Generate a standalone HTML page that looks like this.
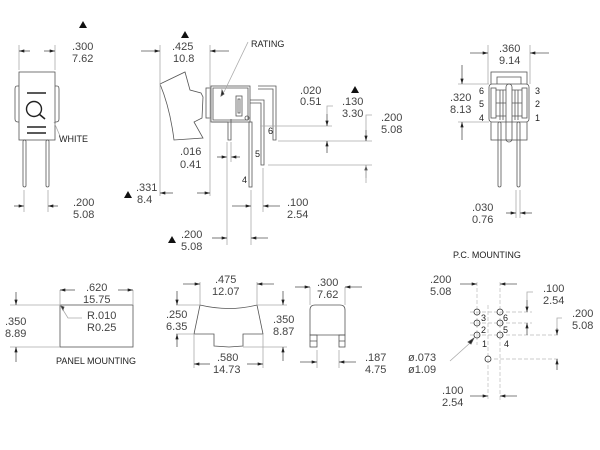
<!DOCTYPE html>
<html><head><meta charset="utf-8"><style>
body{margin:0;background:#fff}
svg{display:block}
text{font-family:"Liberation Sans",sans-serif;fill:#444;font-size:11px}
.s{font-size:9px;fill:#222}
</style></head><body>
<svg width="600" height="450" viewBox="0 0 600 450" xmlns="http://www.w3.org/2000/svg">
<defs>
<marker id="a" viewBox="0 0 10 6" refX="10" refY="3" markerWidth="8" markerHeight="4" orient="auto-start-reverse"><path d="M0,0L10,3L0,6z" fill="#222"/></marker>
</defs>
<g stroke="#555" stroke-width="0.8" fill="none">
<rect x="19" y="72" width="36" height="68" fill="#fff"/>
<path d="M19,86h-2q-2,0-2,3v30q0,3,3,3h1 M55,86h2q2,0,2,3v30q0,3-3,3h-1"/>
<line x1="27" y1="93" x2="46" y2="93" stroke-width="1.4" stroke="#222"/>
<circle cx="34" cy="109" r="7.5" stroke-width="1.4" stroke="#222"/>
<line x1="39" y1="114" x2="45" y2="119" stroke-width="1.6" stroke="#222"/>
<line x1="27" y1="127" x2="46" y2="127" stroke-width="1.4" stroke="#222"/>
<line x1="27" y1="133" x2="46" y2="133" stroke-width="1.4" stroke="#222"/>
<line x1="54" y1="122" x2="60" y2="136" stroke="#aaa"/>
<rect x="23" y="140" width="3" height="47" rx="1.5"/>
<rect x="46" y="140" width="3" height="47" rx="1.5"/>
<line x1="19" y1="45" x2="19" y2="70" stroke="#aaa"/><line x1="55" y1="45" x2="55" y2="70" stroke="#aaa"/>
<line x1="19" y1="51" x2="30" y2="51" marker-start="url(#a)"/><line x1="44" y1="51" x2="55" y2="51" marker-end="url(#a)"/>
<line x1="24" y1="190" x2="24" y2="212" stroke="#aaa"/><line x1="48" y1="190" x2="48" y2="212" stroke="#aaa"/>
<line x1="14" y1="206" x2="24" y2="206" marker-end="url(#a)"/><line x1="58" y1="206" x2="48" y2="206" marker-end="url(#a)"/>
<path d="M160,84L185,72L190,90L201,93L203,97L202,118L194,122L203,138L174,140Q170,108 160,84Z" fill="#fff"/>
<rect x="206" y="88" width="5" height="30"/>
<rect x="211" y="86" width="39" height="36" fill="#fff"/>
<path d="M213,88h35v32h-35z"/>
<rect x="236" y="96" width="6" height="20"/><rect x="238" y="99" width="2" height="14"/>
<path d="M258,86h18v54h-3v-51h-15"/>
<path d="M250,100h14v65h-3v-62h-11"/>
<rect x="249" y="122" width="3" height="65"/>
<path d="M212,122h16v18h3v-21"/>
<circle cx="247" cy="118" r="2"/>
<line x1="248" y1="42" x2="224" y2="92" stroke="#aaa"/>
<path d="M224,94l-3,2l1,-6z" fill="#222"/>
<line x1="160" y1="45" x2="160" y2="196" stroke="#aaa"/><line x1="210" y1="45" x2="210" y2="196" stroke="#aaa"/>
<line x1="141" y1="51" x2="160" y2="51" marker-end="url(#a)"/><line x1="229" y1="51" x2="210" y2="51" marker-end="url(#a)"/>
<line x1="173" y1="193" x2="160" y2="193" marker-end="url(#a)"/><line x1="197" y1="193" x2="210" y2="193" marker-end="url(#a)"/>
<line x1="217" y1="157" x2="227" y2="157" marker-end="url(#a)"/><line x1="240" y1="157" x2="231" y2="157" marker-end="url(#a)"/>
<line x1="227" y1="142" x2="227" y2="245" stroke="#aaa"/><line x1="231" y1="142" x2="231" y2="162" stroke="#aaa"/>
<line x1="251" y1="190" x2="251" y2="245" stroke="#aaa"/><line x1="263" y1="168" x2="263" y2="212" stroke="#aaa"/>
<line x1="232" y1="206" x2="251" y2="206" marker-end="url(#a)"/><line x1="280" y1="206" x2="263" y2="206" marker-end="url(#a)"/>
<line x1="212" y1="238" x2="227" y2="238" marker-end="url(#a)"/><line x1="268" y1="238" x2="251" y2="238" marker-end="url(#a)"/>
<line x1="260" y1="126" x2="332" y2="126" stroke="#aaa"/><line x1="278" y1="141" x2="372" y2="141" stroke="#aaa"/><line x1="268" y1="165" x2="372" y2="165" stroke="#aaa"/>
<path d="M327,114v-8h6" stroke="#aaa"/><path d="M366,130v-15h6" stroke="#aaa"/>
<line x1="327" y1="114" x2="327" y2="126" marker-end="url(#a)"/><line x1="327" y1="153" x2="327" y2="141" marker-end="url(#a)"/>
<line x1="366" y1="130" x2="366" y2="141" marker-end="url(#a)"/><line x1="366" y1="178" x2="366" y2="165" marker-end="url(#a)"/>
<line x1="366" y1="165" x2="366" y2="183" stroke="#aaa"/>
<rect x="491" y="72" width="36" height="68" fill="#fff"/>
<path d="M497,84v-7h24v7"/>
<rect x="489" y="84" width="40" height="38" rx="3" fill="#fff"/>
<rect x="491" y="88" width="5" height="30"/><rect x="522" y="88" width="5" height="30"/>
<rect x="506" y="84" width="6" height="58" rx="3"/>
<path d="M496,90h10M512,90h10M496,103h10M512,103h10M496,116h10M512,116h10"/>
<path d="M500,90v30M503,90v30M515,90v30M518,90v30"/>
<rect x="498" y="122" width="3" height="65" rx="1.5"/><rect x="517" y="122" width="3" height="65" rx="1.5"/>
<line x1="488" y1="45" x2="488" y2="84" stroke="#aaa"/><line x1="530" y1="45" x2="530" y2="84" stroke="#aaa"/>
<line x1="470" y1="53" x2="488" y2="53" marker-end="url(#a)"/><line x1="549" y1="53" x2="530" y2="53" marker-end="url(#a)"/>
<line x1="458" y1="84" x2="489" y2="84" stroke="#aaa"/><line x1="458" y1="122" x2="489" y2="122" stroke="#aaa"/>
<line x1="462" y1="65" x2="462" y2="84" marker-end="url(#a)"/><line x1="462" y1="140" x2="462" y2="122" marker-end="url(#a)"/>
<line x1="516" y1="190" x2="516" y2="218" stroke="#aaa"/><line x1="520" y1="190" x2="520" y2="218" stroke="#aaa"/>
<line x1="506" y1="213" x2="516" y2="213" marker-end="url(#a)"/><line x1="532" y1="213" x2="520" y2="213" marker-end="url(#a)"/>
<rect x="60" y="305" width="73" height="42"/>
<path d="M60,305l8,13h14" stroke="#aaa"/><path d="M61,306l3,1l-1,3z" fill="#222"/>
<line x1="60" y1="290" x2="60" y2="305" stroke="#aaa"/><line x1="133" y1="290" x2="133" y2="305" stroke="#aaa"/>
<line x1="75" y1="290" x2="60" y2="290" marker-end="url(#a)"/><line x1="118" y1="290" x2="133" y2="290" marker-end="url(#a)"/>
<line x1="10" y1="305" x2="60" y2="305" stroke="#aaa"/><line x1="10" y1="347" x2="60" y2="347" stroke="#aaa"/>
<line x1="16" y1="292" x2="16" y2="305" marker-end="url(#a)"/><line x1="16" y1="362" x2="16" y2="347" marker-end="url(#a)"/>
<path d="M200,305Q229,312 257,305L263,334H243V346L229,347L214,346V334H194Z" fill="#fff"/>
<line x1="200" y1="282" x2="200" y2="305" stroke="#aaa"/><line x1="257" y1="282" x2="257" y2="305" stroke="#aaa"/>
<line x1="183" y1="284" x2="200" y2="284" marker-end="url(#a)"/><line x1="274" y1="284" x2="257" y2="284" marker-end="url(#a)"/>
<line x1="176" y1="305" x2="200" y2="305" stroke="#aaa"/><line x1="176" y1="334" x2="194" y2="334" stroke="#aaa"/>
<line x1="177" y1="291" x2="177" y2="305" marker-end="url(#a)"/><line x1="177" y1="347" x2="177" y2="334" marker-end="url(#a)"/>
<line x1="257" y1="305" x2="287" y2="305" stroke="#aaa"/><line x1="243" y1="347" x2="287" y2="347" stroke="#aaa"/>
<line x1="283" y1="291" x2="283" y2="305" marker-end="url(#a)"/><line x1="283" y1="361" x2="283" y2="347" marker-end="url(#a)"/>
<line x1="194" y1="334" x2="194" y2="368" stroke="#aaa"/><line x1="263" y1="334" x2="263" y2="368" stroke="#aaa"/>
<line x1="210" y1="364" x2="194" y2="364" marker-end="url(#a)"/><line x1="247" y1="364" x2="263" y2="364" marker-end="url(#a)"/>
<path d="M310,335V310q0-5,5-5h25q5,0,5,5v25z" fill="#fff"/>
<rect x="310" y="335" width="7" height="12"/><rect x="339" y="335" width="6" height="12"/>
<path d="M310,341h7M339,341h6"/>
<line x1="310" y1="287" x2="310" y2="305" stroke="#aaa"/><line x1="345" y1="287" x2="345" y2="305" stroke="#aaa"/>
<line x1="295" y1="287" x2="310" y2="287" marker-end="url(#a)"/><line x1="362" y1="287" x2="345" y2="287" marker-end="url(#a)"/>
<line x1="317" y1="350" x2="317" y2="368" stroke="#aaa"/><line x1="339" y1="350" x2="339" y2="368" stroke="#aaa"/>
<line x1="300" y1="362" x2="317" y2="362" marker-end="url(#a)"/><line x1="356" y1="362" x2="339" y2="362" marker-end="url(#a)"/>
<g stroke="#bbb" stroke-dasharray="4,2" stroke-width="0.7">
<line x1="470" y1="312" x2="532" y2="312"/><line x1="470" y1="323" x2="532" y2="323"/><line x1="470" y1="335" x2="560" y2="335"/>
<line x1="477" y1="282" x2="477" y2="345"/><line x1="500" y1="282" x2="500" y2="400"/><line x1="488" y1="305" x2="488" y2="400"/>
<line x1="494" y1="359" x2="560" y2="359"/>
</g>
<g stroke="#333">
<circle cx="477" cy="312" r="3"/><circle cx="500" cy="312" r="3"/>
<circle cx="477" cy="323" r="3"/><circle cx="500" cy="323" r="3"/>
<circle cx="477" cy="335" r="3"/><circle cx="500" cy="335" r="3"/>
<circle cx="488" cy="359" r="3"/>
</g>
<line x1="460" y1="284" x2="477" y2="284" marker-end="url(#a)"/><line x1="517" y1="284" x2="500" y2="284" marker-end="url(#a)"/>
<line x1="470" y1="396" x2="488" y2="396" marker-end="url(#a)"/><line x1="517" y1="396" x2="500" y2="396" marker-end="url(#a)"/>
<path d="M527,300v-8h6" stroke="#aaa"/><path d="M557,328v-10h5" stroke="#aaa"/>
<line x1="527" y1="300" x2="527" y2="312" marker-end="url(#a)"/><line x1="527" y1="335" x2="527" y2="323" marker-end="url(#a)"/>
<line x1="557" y1="328" x2="557" y2="335" marker-end="url(#a)"/><line x1="557" y1="370" x2="557" y2="359" marker-end="url(#a)"/>
<path d="M450,361l20,-18" stroke="#aaa"/><path d="M474,338l-3,6l-3,-2z" fill="#222"/>
</g>
<g fill="#111">
<path d="M79,28h8l-4,-7z"/><path d="M181,38h8l-4,-7z"/><path d="M351,93h8l-4,-7z"/>
<path d="M124,198h8l-4,-7z"/><path d="M168,243h8l-4,-7z"/>
</g>
<text x="72" y="50">.300</text><text x="72" y="62">7.62</text>
<text x="59" y="142" class="s">WHITE</text>
<text x="73" y="206">.200</text><text x="73" y="218">5.08</text>
<text x="172" y="50">.425</text><text x="173" y="62">10.8</text>
<text x="251" y="47" class="s">RATING</text>
<text x="180" y="155">.016</text><text x="180" y="168">0.41</text>
<text x="136" y="191">.331</text><text x="137" y="203">8.4</text>
<text x="287" y="206">.100</text><text x="287" y="218">2.54</text>
<text x="181" y="238">.200</text><text x="181" y="250">5.08</text>
<text x="268" y="134" class="s">6</text><text x="255" y="157" class="s">5</text><text x="242" y="183" class="s">4</text>
<text x="300" y="94">.020</text><text x="300" y="105">0.51</text>
<text x="342" y="105">.130</text><text x="342" y="117">3.30</text>
<text x="381" y="121">.200</text><text x="381" y="133">5.08</text>
<text x="499" y="52">.360</text><text x="499" y="64">9.14</text>
<text x="450" y="101">.320</text><text x="450" y="113">8.13</text>
<text x="479" y="94" class="s">6</text><text x="479" y="107" class="s">5</text><text x="479" y="121" class="s">4</text>
<text x="535" y="94" class="s">3</text><text x="535" y="107" class="s">2</text><text x="535" y="121" class="s">1</text>
<text x="472" y="211">.030</text><text x="472" y="223">0.76</text>
<text x="453" y="258" class="s">P.C. MOUNTING</text>
<text x="86" y="291">.620</text><text x="83" y="303">15.75</text>
<text x="5" y="325">.350</text><text x="5" y="337">8.89</text>
<text x="87" y="319">R.010</text><text x="87" y="331">R0.25</text>
<text x="56" y="364" class="s">PANEL MOUNTING</text>
<text x="215" y="283">.475</text><text x="212" y="295">12.07</text>
<text x="166" y="318">.250</text><text x="166" y="330">6.35</text>
<text x="273" y="323">.350</text><text x="273" y="335">8.87</text>
<text x="217" y="361">.580</text><text x="213" y="373">14.73</text>
<text x="317" y="286">.300</text><text x="317" y="298">7.62</text>
<text x="365" y="361">.187</text><text x="365" y="373">4.75</text>
<text x="430" y="283">.200</text><text x="430" y="295">5.08</text>
<text x="543" y="292">.100</text><text x="543" y="304">2.54</text>
<text x="572" y="317">.200</text><text x="572" y="329">5.08</text>
<text x="408" y="361">ø.073</text><text x="408" y="373">ø1.09</text>
<text x="442" y="394">.100</text><text x="442" y="406">2.54</text>
<text x="481" y="321" class="s">3</text><text x="503" y="321" class="s">6</text>
<text x="481" y="333" class="s">2</text><text x="503" y="333" class="s">5</text>
<text x="482" y="347" class="s">1</text><text x="504" y="347" class="s">4</text>
</svg>
</body></html>
